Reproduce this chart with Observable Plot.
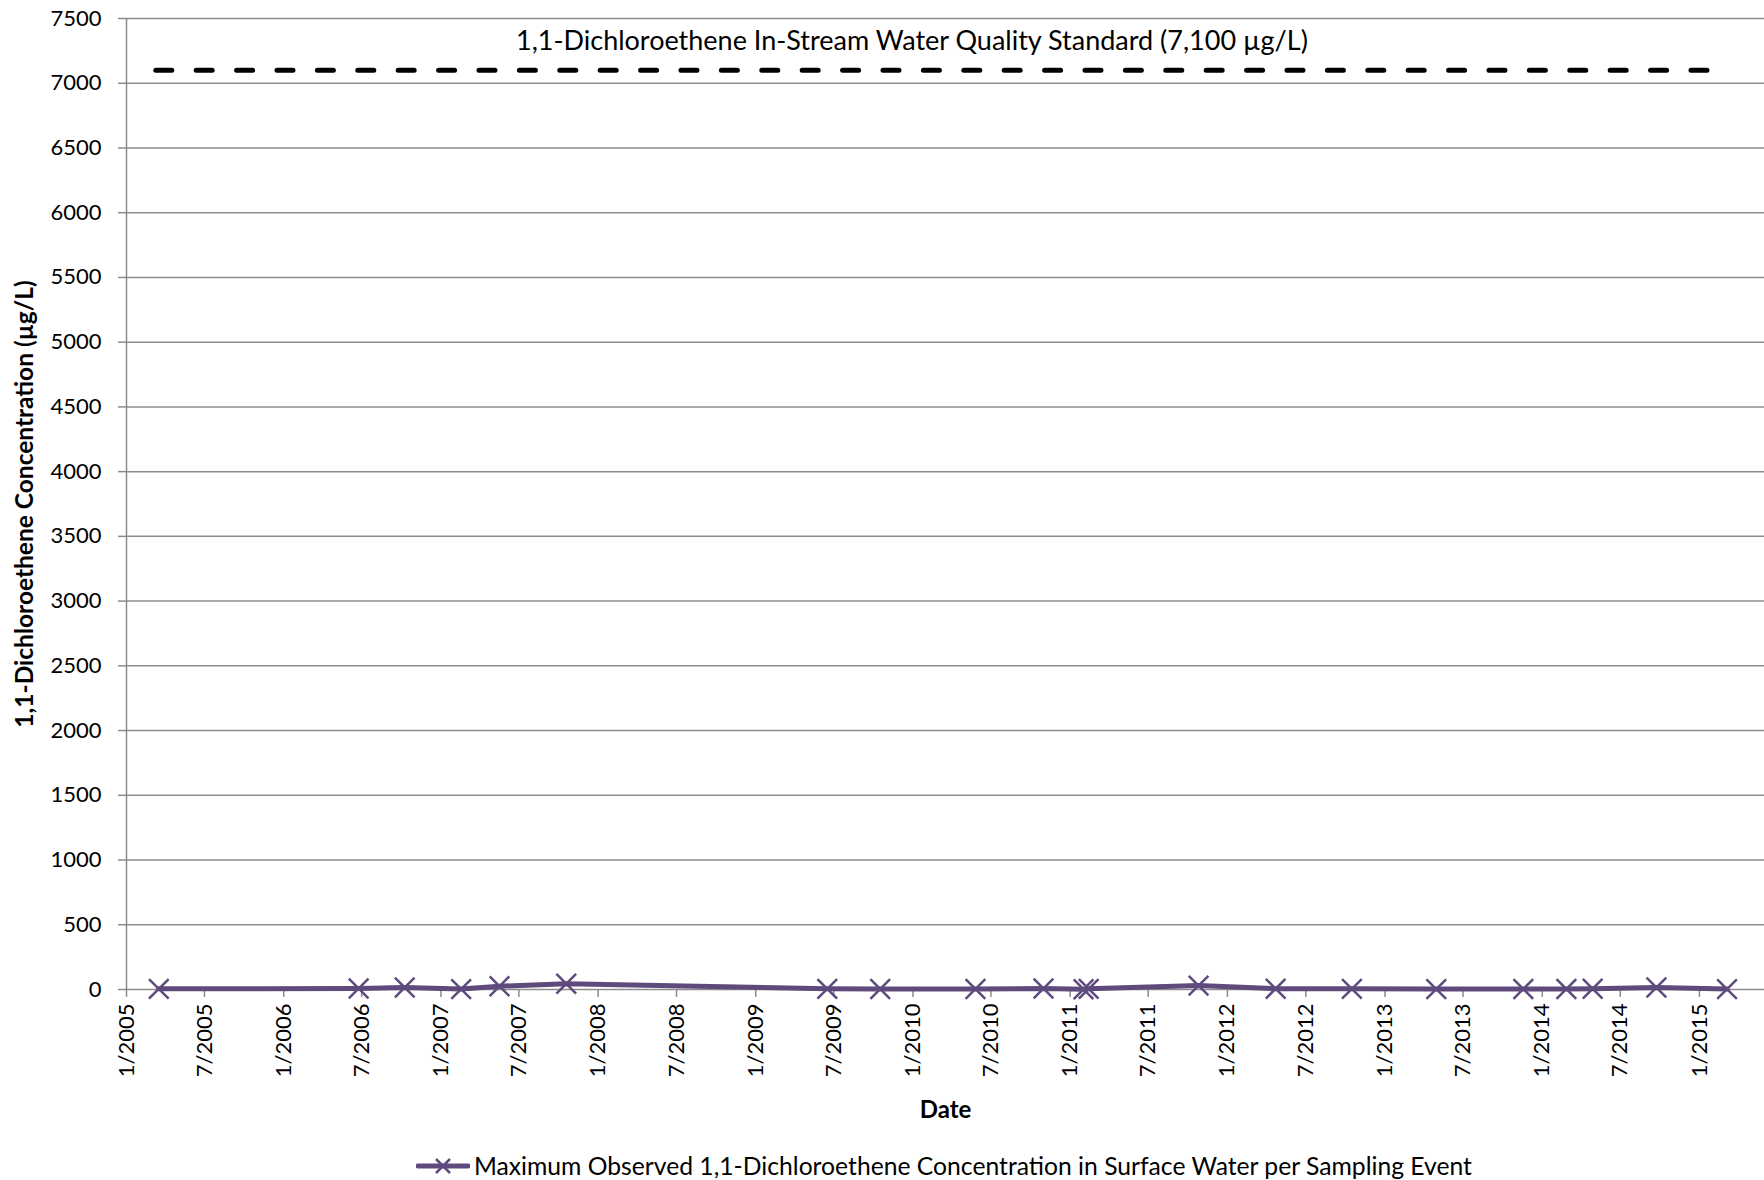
<!DOCTYPE html>
<html>
<head>
<meta charset="utf-8">
<script src="https://cdn.jsdelivr.net/npm/d3@7"></script>
<script src="https://cdn.jsdelivr.net/npm/@observablehq/plot@0.6"></script>
<style>
  html, body { margin: 0; padding: 0; background: white; }
  #chart { width: 1764px; }
  #legend { height: 45px; margin-top: 8px; display: flex; align-items: center; justify-content: flex-start; font-family: Lato, sans-serif; font-size: 24.7px; color: black; padding-left: 416px; box-sizing: border-box; }
  #legend svg { margin-right: 4px; }
</style>
</head>
<body>
<div id="chart"></div>
<div id="legend"></div>
<script>
// ---- data ----
const sampleDates = ["2005-03-17","2006-06-24","2006-10-09","2007-02-17","2007-05-17","2007-10-19",
  "2009-06-16","2009-10-17","2010-05-26","2010-10-31","2011-02-01","2011-02-13","2011-10-26",
  "2012-04-22","2012-10-16","2013-04-30","2013-11-18","2014-02-26","2014-04-28","2014-09-23","2015-03-06"];
const maxConc = [5, 8, 15, 3, 25, 45, 5, 4, 4, 8, 2, 5, 30, 6, 5, 3, 4, 4, 6, 15, 3];

const standardDates = ["2005-03-10", "2015-01-21"];
const standardValue = 7100;
const standardLabel = "1,1-Dichloroethene In-Stream Water Quality Standard (7,100 µg/L)";

const xTickDates = ["2005-01-01","2005-07-01","2006-01-01","2006-07-01","2007-01-01","2007-07-01",
  "2008-01-01","2008-07-01","2009-01-01","2009-07-01","2010-01-01","2010-07-01","2011-01-01",
  "2011-07-01","2012-01-01","2012-07-01","2013-01-01","2013-07-01","2014-01-01","2014-07-01","2015-01-01"];
const yTicks = [0,500,1000,1500,2000,2500,3000,3500,4000,4500,5000,5500,6000,6500,7000,7500];
const xDomain = ["2005-01-01", "2015-06-01"];

const yLabel = "1,1-Dichloroethene Concentration (µg/L)";
const xLabel = "Date";
const seriesName = "Maximum Observed 1,1-Dichloroethene Concentration in Surface Water per Sampling Event";

// ---- build ----
const series = sampleDates.map((d, i) => ({date: new Date(d), value: maxConc[i]}));
const standard = standardDates.map(d => ({date: new Date(d), value: standardValue}));
const xt = xTickDates.map(d => new Date(d));
const purple = "#5f4a7d";
const grid = "#8c8c8c";
const midStd = new Date((standard[0].date.getTime() + standard[1].date.getTime()) / 2);

const chart = Plot.plot({
  width: 1764,
  height: 1135,
  marginLeft: 126,
  marginRight: 0,
  marginTop: 18,
  marginBottom: 146,
  style: {fontFamily: "Lato, sans-serif", fontSize: "22px", color: "black", background: "white"},
  x: {type: "utc", domain: xDomain.map(d => new Date(d))},
  y: {domain: [0, 7500]},
  marks: [
    Plot.gridY(yTicks, {stroke: grid, strokeOpacity: 1, strokeWidth: 1.5}),
    Plot.ruleX([new Date(xDomain[0])], {stroke: grid, strokeWidth: 1.5}),
    Plot.axisY(yTicks, {tickSize: 8, tickPadding: 17, stroke: grid, strokeWidth: 1.5, label: null, tickFormat: d => String(d)}),
    Plot.axisX(xt, {tickSize: 8, tickPadding: 6, tickRotate: -90, stroke: grid, strokeWidth: 1.5, label: null,
      tickFormat: d => `${d.getUTCMonth() + 1}/${d.getUTCFullYear()}`}),
    Plot.line(standard, {x: "date", y: "value", stroke: "black", strokeWidth: 5, strokeDasharray: "16,24.4", strokeLinecap: "round"}),
    Plot.text([standardLabel], {x: () => midStd, y: () => standardValue, dy: -29, dx: -20, fontSize: 27}),
    Plot.line(series, {x: "date", y: "value", stroke: purple, strokeWidth: 5}),
    Plot.dot(series, {x: "date", y: "value", symbol: "times", r: 9, stroke: purple, strokeWidth: 2.5}),
    Plot.text([yLabel], {frameAnchor: "left", textAnchor: "middle", dx: -101, rotate: -90, fontWeight: "bold", fontSize: 24.5}),
    Plot.text([xLabel], {frameAnchor: "bottom", dy: 128, fontWeight: "bold", fontSize: 24})
  ]
});
document.getElementById("chart").appendChild(chart);

// legend
const lg = document.getElementById("legend");
lg.innerHTML = `<svg width="54" height="24" viewBox="0 0 54 24">
  <line x1="2" y1="12" x2="52" y2="12" stroke="${purple}" stroke-width="5" stroke-linecap="round"/>
  <path d="M20,5 L34,19 M34,5 L20,19" stroke="${purple}" stroke-width="2.5"/>
</svg><span>${seriesName}</span>`;
</script>
</body>
</html>
